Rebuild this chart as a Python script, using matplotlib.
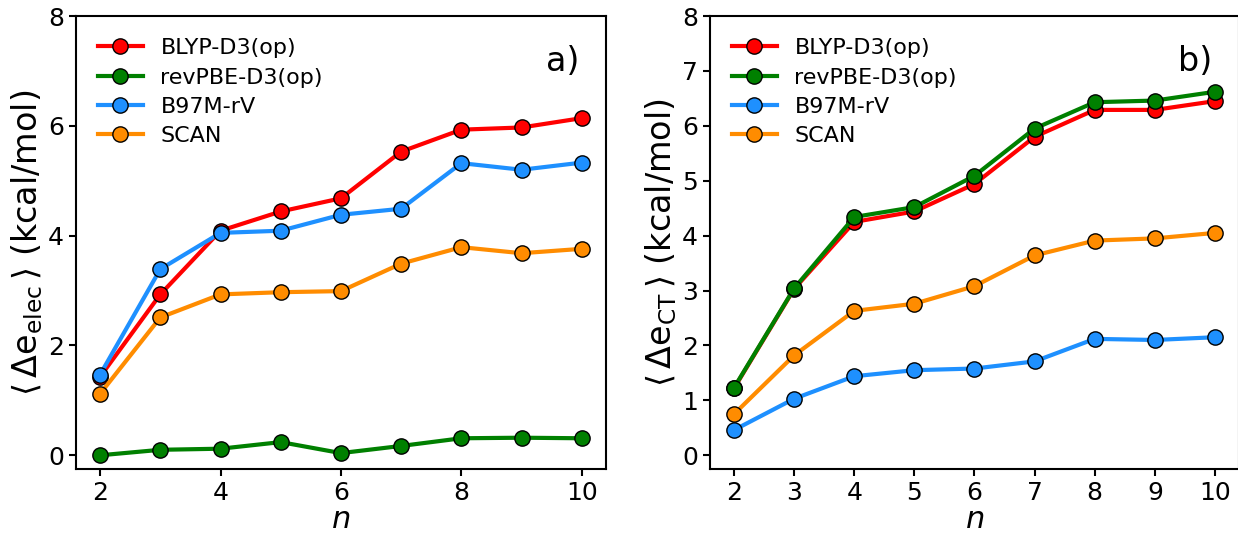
import numpy as np
import matplotlib.pyplot as plt

n = [2, 3, 4, 5, 6, 7, 8, 9, 10]
methods = ['BLYP-D3(op)', 'revPBE-D3(op)', 'B97M-rV', 'SCAN']
colors = ['red', 'green', 'dodgerblue', 'darkorange']

# panel a) <Delta e_elec>
elec_blyp = [1.43, 2.93, 4.09, 4.44, 4.68, 5.53, 5.93, 5.97, 6.14]
elec_revpbe = [0.00, 0.10, 0.12, 0.24, 0.04, 0.17, 0.31, 0.32, 0.31]
elec_b97m = [1.47, 3.39, 4.05, 4.09, 4.38, 4.49, 5.32, 5.20, 5.33]
elec_scan = [1.12, 2.51, 2.93, 2.97, 2.99, 3.49, 3.79, 3.68, 3.76]

# panel b) <Delta e_CT>
ct_blyp = [1.22, 3.03, 4.25, 4.44, 4.94, 5.80, 6.29, 6.29, 6.45]
ct_revpbe = [1.23, 3.04, 4.34, 4.52, 5.09, 5.95, 6.43, 6.46, 6.62]
ct_b97m = [0.46, 1.03, 1.44, 1.55, 1.58, 1.71, 2.12, 2.10, 2.15]
ct_scan = [0.75, 1.82, 2.63, 2.76, 3.08, 3.64, 3.91, 3.95, 4.05]

fig = plt.figure(figsize=(12.38, 5.37), dpi=100)
ax1 = fig.add_axes([0.0614, 0.1266, 0.428, 0.8436])
ax2 = fig.add_axes([0.5735, 0.1266, 0.4273, 0.8436])

panels = [
    (ax1, [elec_blyp, elec_revpbe, elec_b97m, elec_scan],
     r'$\langle\,\Delta\mathrm{e}_{\rm elec}\,\rangle$ (kcal/mol)', 'a)', [0, 2, 4, 6, 8], [2, 4, 6, 8, 10]),
    (ax2, [ct_blyp, ct_revpbe, ct_b97m, ct_scan],
     r'$\langle\,\Delta\mathrm{e}_{\rm CT}\,\rangle$ (kcal/mol)', 'b)', list(range(9)), n),
]

for ax, series, ylab, tag, yt, xt in panels:
    for vals, lab, c in zip(series, methods, colors):
        ax.plot(n, vals, '-o', color=c, lw=3, ms=11, mec='black', mew=1, label=lab)
    ax.set_ylim(-0.25, 8)
    ax.set_xlim(1.6, 10.4)
    ax.set_yticks(yt)
    ax.set_xticks(xt)
    ax.tick_params(labelsize=18, width=1.5, length=5)
    for s in ax.spines.values():
        s.set_linewidth(1.5)
    ax.set_ylabel(ylab, fontsize=24, labelpad=2)
    ax.set_xlabel(r'$n$', fontsize=22, labelpad=0)
    ax.text(0.95, 0.9, tag, transform=ax.transAxes, ha='right', va='center', fontsize=24)
    ax.legend(loc='upper left', frameon=False, fontsize=16, handlelength=2.0,
              borderaxespad=0.6, labelspacing=0.42)

fig.savefig('out.png', dpi=100)
